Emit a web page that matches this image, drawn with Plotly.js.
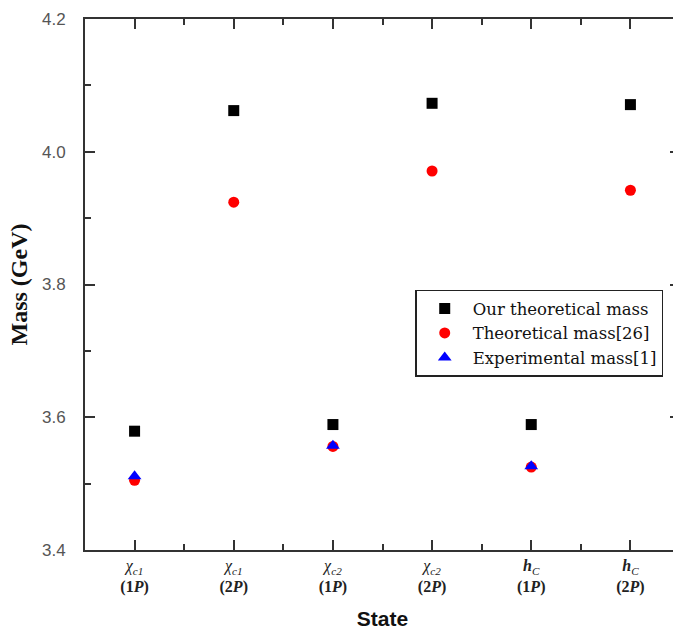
<!DOCTYPE html>
<html><head><meta charset="utf-8">
<script src="https://cdn.plot.ly/plotly-3.0.1.min.js"></script>
<style>html,body{margin:0;padding:0;overflow:hidden;background:#fff;width:673px;height:639px}#chart{width:673px;height:639px;overflow:hidden}</style>
</head><body><div id="chart"></div>
<script>
const categories = [
  "<i>χ</i><sub><i>c1</i></sub><br><b>(1<i>P</i>)</b>",
  "<i>χ</i><sub><i>c1</i></sub><br><b>(2<i>P</i>)</b>",
  "<i>χ</i><sub><i>c2</i></sub><br><b>(1<i>P</i>)</b>",
  "<i>χ</i><sub><i>c2</i></sub><br><b>(2<i>P</i>)</b>",
  "<b><i>h</i></b><sub><i>C</i></sub><br><b>(1<i>P</i>)</b>",
  "<b><i>h</i></b><sub><i>C</i></sub><br><b>(2<i>P</i>)</b>"
];
const ourMass = [3.579, 4.062, 3.589, 4.073, 3.589, 4.071];
const theoMass = [3.505, 3.924, 3.556, 3.971, 3.525, 3.942];
const expMass = [3.511, null, 3.557, null, 3.526, null];
const seriesNames = ["Our theoretical mass", "Theoretical mass[26]", "Experimental mass[1]"];
const yTicks = [3.4, 3.6, 3.8, 4.0, 4.2];
const yTickText = ["3.4", "3.6", "3.8", "4.0", "4.2"];

const idx = categories.map((_, i) => i);
const traces = [
  {x: idx, y: ourMass, name: seriesNames[0], mode: "markers", type: "scatter",
   marker: {symbol: "square", size: 11, color: "#000"}},
  {x: idx, y: theoMass, name: seriesNames[1], mode: "markers", type: "scatter",
   marker: {symbol: "circle", size: 11, color: "#ff0000"}},
  {x: idx, y: expMass, name: seriesNames[2], mode: "markers", type: "scatter",
   marker: {symbol: "triangle-up", size: 12, color: "#0000ff"}}
];
const axisCommon = {showline: true, linecolor: "#333", linewidth: 2, mirror: "ticks",
  ticks: "inside", ticklen: 10, tickwidth: 2, tickcolor: "#333", showgrid: false, zeroline: false};
const layout = {
  width: 681, height: 639,
  margin: {l: 85, r: 1, t: 19, b: 89},
  paper_bgcolor: "#fff", plot_bgcolor: "#fff",
  showlegend: true,
  legend: {x: 0.555, y: 0.49, xanchor: "left", yanchor: "top", bgcolor: "#fff",
    bordercolor: "#222", borderwidth: 1.5, tracegroupgap: 0,
    font: {family: "DejaVu Serif", size: 16.5, color: "#111"}, itemwidth: 46},
  xaxis: Object.assign({}, axisCommon, {
    range: [-0.5, 5.5], tickmode: "array", tickvals: idx, ticktext: categories,
    tickfont: {family: "Liberation Serif", size: 16, color: "#222"},
    minor: {tickmode: "array", tickvals: [0.5, 1.5, 2.5, 3.5, 4.5], ticklen: 6, tickwidth: 2, tickcolor: "#333", ticks: "inside"},
    title: {text: "<b>State</b>", font: {family: "Liberation Sans Narrow, Liberation Sans", size: 21, color: "#111"}, standoff: 16}
  }),
  yaxis: Object.assign({}, axisCommon, {
    range: [3.4, 4.2], tickmode: "array", tickvals: yTicks, ticktext: yTickText,
    tickfont: {family: "Liberation Sans", size: 17, color: "#555"},
    ticklabelstandoff: 14,
    minor: {tickmode: "array", tickvals: [3.5, 3.7, 3.9, 4.1], ticklen: 6, tickwidth: 2, tickcolor: "#333", ticks: "inside"},
    title: {text: "<b>Mass (GeV)</b>", font: {family: "Liberation Serif", size: 24, color: "#111"}, standoff: 8}
  })
};
Plotly.newPlot("chart", traces, layout, {displayModeBar: false, staticPlot: true});
</script></body></html>
